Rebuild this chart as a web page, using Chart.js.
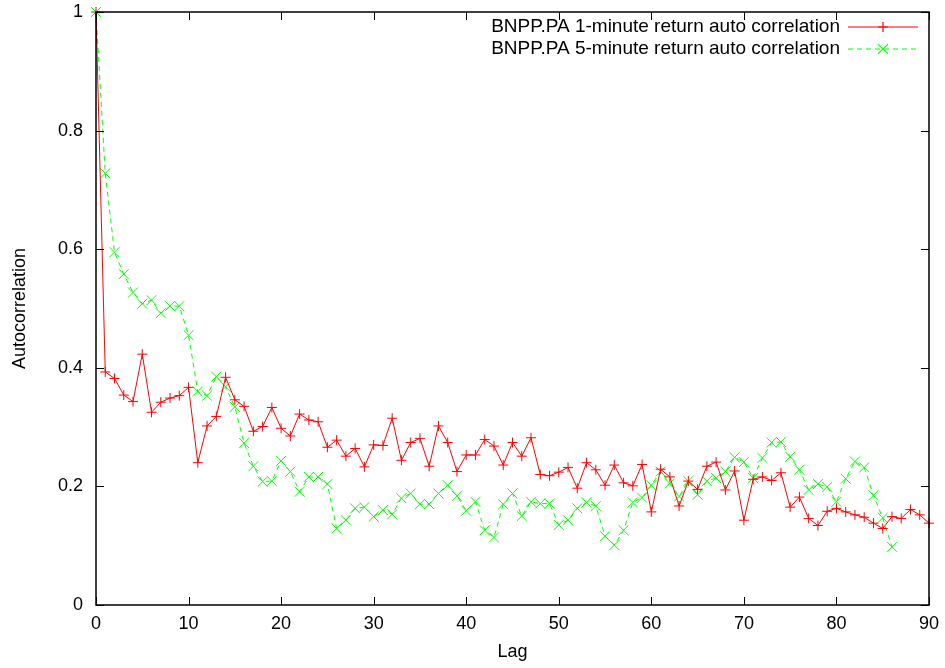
<!DOCTYPE html>
<html>
<head>
<meta charset="utf-8">
<script src="https://cdn.jsdelivr.net/npm/chart.js@4.4.0/dist/chart.umd.min.js"></script>
<style>
  html, body { margin: 0; padding: 0; background: #fff; }
  canvas { display: block; }
</style>
</head>
<body>
<canvas id="acfChart" width="945" height="668"></canvas>
<script>
// autocorrelation by lag, 1-minute returns (lag 0..90)
var oneMinAcf = [
  1.0, 0.393, 0.382, 0.354, 0.343, 0.423, 0.325, 0.342, 0.349, 0.353,
  0.367, 0.240, 0.302, 0.318, 0.384, 0.346, 0.335, 0.293, 0.301, 0.333,
  0.298, 0.285, 0.322, 0.312, 0.309, 0.266, 0.278, 0.251, 0.264, 0.233,
  0.270, 0.269, 0.315, 0.244, 0.274, 0.281, 0.234, 0.302, 0.274, 0.225,
  0.253, 0.253, 0.279, 0.268, 0.236, 0.274, 0.251, 0.282, 0.220, 0.218,
  0.224, 0.232, 0.197, 0.240, 0.228, 0.202, 0.236, 0.206, 0.201, 0.237,
  0.157, 0.229, 0.216, 0.167, 0.209, 0.195, 0.234, 0.241, 0.194, 0.226,
  0.143, 0.212, 0.216, 0.210, 0.223, 0.165, 0.182, 0.146, 0.134, 0.158,
  0.163, 0.157, 0.152, 0.148, 0.138, 0.129, 0.149, 0.146, 0.161, 0.152,
  0.138
];

// 5-minute returns (lag 0..86)
var fiveMinAcf = [
  1.0, 0.728, 0.595, 0.558, 0.527, 0.508, 0.514, 0.492, 0.504, 0.504,
  0.455, 0.360, 0.353, 0.385, 0.368, 0.334, 0.273, 0.234, 0.208, 0.209,
  0.243, 0.225, 0.191, 0.216, 0.216, 0.204, 0.129, 0.143, 0.163, 0.165,
  0.149, 0.160, 0.153, 0.180, 0.188, 0.170, 0.170, 0.188, 0.202, 0.184,
  0.159, 0.174, 0.126, 0.114, 0.170, 0.188, 0.150, 0.174, 0.171, 0.171,
  0.135, 0.143, 0.163, 0.173, 0.167, 0.116, 0.101, 0.126, 0.173, 0.181,
  0.202, 0.225, 0.205, 0.183, 0.209, 0.186, 0.209, 0.214, 0.225, 0.249,
  0.241, 0.214, 0.248, 0.274, 0.275, 0.250, 0.228, 0.194, 0.204, 0.199,
  0.174, 0.213, 0.242, 0.232, 0.185, 0.147, 0.098
];

var seriesNames = [
  "BNPP.PA 1-minute return auto correlation",
  "BNPP.PA 5-minute return auto correlation"
];

var xTicks = [0, 10, 20, 30, 40, 50, 60, 70, 80, 90];
var yTicks = [0, 0.2, 0.4, 0.6, 0.8, 1];

var FONT = "'Liberation Sans', Arial, sans-serif";
var FONT_SIZE = 18;

function toPoints(arr) {
  return arr.map(function (v, lag) { return { x: lag, y: v }; });
}

// gnuplot style frame: box + inward ticks on all four sides
var framePlugin = {
  id: "frame",
  afterDatasetsDraw: function (chart) {
    var ctx = chart.ctx;
    var a = chart.chartArea;
    var xs = chart.scales.x, ys = chart.scales.y;
    var len = 8;
    ctx.save();
    ctx.strokeStyle = "#000";
    ctx.lineWidth = 1;
    ctx.beginPath();
    xTicks.forEach(function (t) {
      var px = Math.round(xs.getPixelForValue(t)) + 0.5;
      ctx.moveTo(px, a.bottom); ctx.lineTo(px, a.bottom - len);
      ctx.moveTo(px, a.top); ctx.lineTo(px, a.top + len);
    });
    yTicks.forEach(function (t) {
      var py = Math.round(ys.getPixelForValue(t)) + 0.5;
      ctx.moveTo(a.left, py); ctx.lineTo(a.left + len, py);
      ctx.moveTo(a.right, py); ctx.lineTo(a.right - len, py);
    });
    ctx.stroke();
    ctx.lineWidth = 1.5;
    ctx.strokeRect(a.left, a.top, a.right - a.left, a.bottom - a.top);
    ctx.restore();
  }
};

// legend in the top right corner: text, then a line sample with its marker
var keyPlugin = {
  id: "key",
  afterDraw: function (chart) {
    var ctx = chart.ctx;
    var a = chart.chartArea;
    var textRight = a.right - 89;
    var lineL = a.right - 81, lineR = a.right - 11;
    ctx.save();
    ctx.font = "19px " + FONT;
    ctx.textAlign = "right";
    ctx.textBaseline = "middle";
    chart.data.datasets.forEach(function (ds, i) {
      var y = a.top + 15 + i * 22;
      ctx.fillStyle = "#000";
      ctx.fillText(ds.label, textRight, y);
      ctx.strokeStyle = ds.borderColor;
      ctx.lineWidth = 1.2;
      ctx.setLineDash(ds.borderDash || []);
      ctx.beginPath();
      ctx.moveTo(lineL, y);
      ctx.lineTo(lineR, y);
      ctx.stroke();
      ctx.setLineDash([]);
      ctx.strokeStyle = ds.pointBorderColor;
      Chart.helpers.drawPoint(ctx, {
        pointStyle: ds.pointStyle,
        radius: ds.pointRadius,
        borderWidth: ds.pointBorderWidth,
        rotation: 0
      }, (lineL + lineR) / 2, y);
    });
    ctx.restore();
  }
};

var ctx = document.getElementById("acfChart").getContext("2d");
var acfchart = new Chart(ctx, {
  type: "line",
  data: {
    datasets: [
      {
        label: seriesNames[0],
        data: toPoints(oneMinAcf),
        borderColor: "#ff0000",
        backgroundColor: "#ff0000",
        borderWidth: 1,
        pointStyle: "cross",
        pointRadius: 5,
        pointBorderWidth: 1,
        pointBorderColor: "#ff0000",
        tension: 0,
        fill: false,
        clip: false
      },
      {
        label: seriesNames[1],
        data: toPoints(fiveMinAcf),
        borderColor: "#00ff00",
        backgroundColor: "#00ff00",
        borderWidth: 1,
        borderDash: [5, 4],
        pointStyle: "crossRot",
        pointRadius: 7,
        pointBorderWidth: 1,
        pointBorderColor: "#00ff00",
        tension: 0,
        fill: false,
        clip: false
      }
    ]
  },
  options: {
    responsive: false,
    animation: false,
    layout: { padding: { top: 12, right: 16, left: 0, bottom: 0 } },
    plugins: {
      legend: { display: false },
      tooltip: { enabled: false }
    },
    scales: {
      x: {
        type: "linear",
        min: 0,
        max: 90,
        afterBuildTicks: function (s) {
          s.ticks = xTicks.map(function (v) { return { value: v }; });
        },
        afterFit: function (s) {
          s.height = 63;
          s.paddingLeft = 0;
          s.paddingRight = 0;
        },
        grid: { display: false, drawTicks: false },
        border: { display: false },
        ticks: {
          color: "#000",
          padding: 8,
          maxRotation: 0,
          font: { family: FONT, size: FONT_SIZE },
          callback: function (v) { return String(v); }
        },
        title: {
          display: true,
          text: "Lag",
          color: "#000",
          padding: { top: 4, bottom: 5 },
          font: { family: FONT, size: FONT_SIZE }
        }
      },
      y: {
        type: "linear",
        min: 0,
        max: 1,
        afterBuildTicks: function (s) {
          s.ticks = yTicks.map(function (v) { return { value: v }; });
        },
        afterFit: function (s) {
          s.width = 96;
          s.paddingTop = 0;
          s.paddingBottom = 0;
        },
        grid: { display: false, drawTicks: false },
        border: { display: false },
        ticks: {
          color: "#000",
          padding: 13,
          font: { family: FONT, size: FONT_SIZE },
          callback: function (v) { return String(Math.round(v * 10) / 10); }
        },
        title: {
          display: true,
          text: "Autocorrelation",
          color: "#000",
          padding: { top: 9, bottom: 0 },
          font: { family: FONT, size: FONT_SIZE }
        }
      }
    }
  },
  plugins: [framePlugin, keyPlugin]
});
</script>
</body>
</html>
